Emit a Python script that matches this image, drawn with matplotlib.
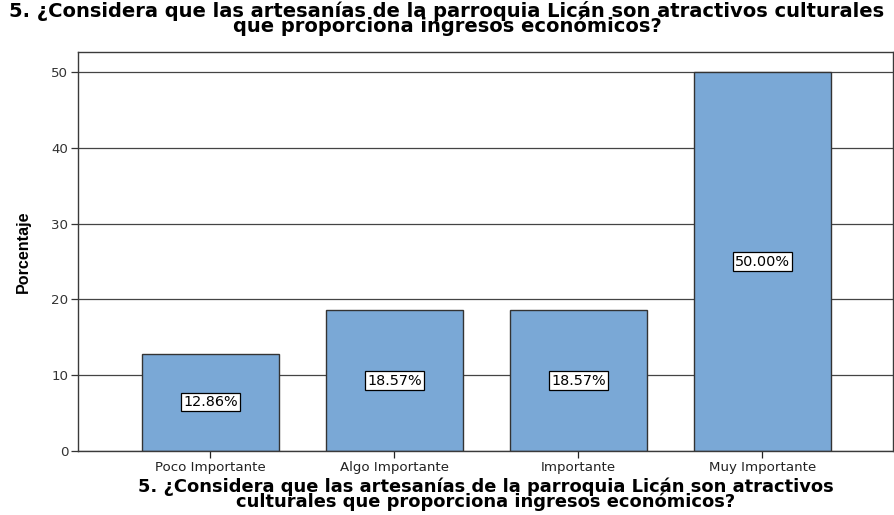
import matplotlib
matplotlib.use("Agg")
import matplotlib.pyplot as plt
from matplotlib import font_manager

categories = ["Poco Importante", "Algo Importante", "Importante", "Muy Importante"]
percentages = [12.86, 18.57, 18.57, 50.00]
y_ticks = [0, 10, 20, 30, 40, 50]
title = ("5. ¿Considera que las artesanías de la parroquia Licán son atractivos culturales\n"
         "que proporciona ingresos económicos?")
x_label = ("5. ¿Considera que las artesanías de la parroquia Licán son atractivos\n"
           "culturales que proporciona ingresos económicos?")
y_label = "Porcentaje"

names = {f.name for f in font_manager.fontManager.ttflist}
narrow = "Liberation Sans Narrow" if "Liberation Sans Narrow" in names else "Liberation Sans"

# the source image is stretched sideways, so the wider DejaVu face fits it better
plt.rcParams["font.family"] = ["DejaVu Sans"]

fig = plt.figure(figsize=(8.94, 5.15), dpi=100)
ax = fig.add_axes([0.0872, 0.1243, 0.9117, 0.7747])

x = list(range(len(categories)))
ax.set_axisbelow(True)
ax.yaxis.grid(True, color="#444444", linewidth=0.9)
ax.bar(x, percentages, width=0.745, color="#7aa8d6", edgecolor="#333333", linewidth=1.0, zorder=2)

for xi, v in zip(x, percentages):
    ax.text(xi, v / 2, f"{v:.2f}%", ha="center", va="center", fontsize=10.4, zorder=3,
            bbox=dict(boxstyle="square,pad=0.15", facecolor="white", edgecolor="black", linewidth=0.9))

ax.set_xlim(-0.72, 3.71)
ax.set_ylim(0, 52.64)
ax.set_yticks(y_ticks)
ax.set_xticks(x)
ax.set_xticklabels(categories)
ax.tick_params(axis="x", labelsize=9.6, colors="#222222", length=5, width=0.9, pad=2)
ax.tick_params(axis="y", labelsize=9.6, colors="#333333", length=5, width=0.9, pad=2)
for s in ax.spines.values():
    s.set_color("#3a3a3a")
    s.set_linewidth(1.0)

ax.set_ylabel(y_label, fontsize=11.6, fontweight="bold", family=narrow)
ax.yaxis.set_label_coords(-0.058, 0.5)
ax.set_xlabel(x_label, fontsize=12.9, fontweight="bold", linespacing=0.72, labelpad=3)
fig.text(0.5, 0.999, title, ha="center", va="top", fontsize=14.0, fontweight="bold",
         linespacing=0.72)

fig.savefig("out.png", dpi=100)
